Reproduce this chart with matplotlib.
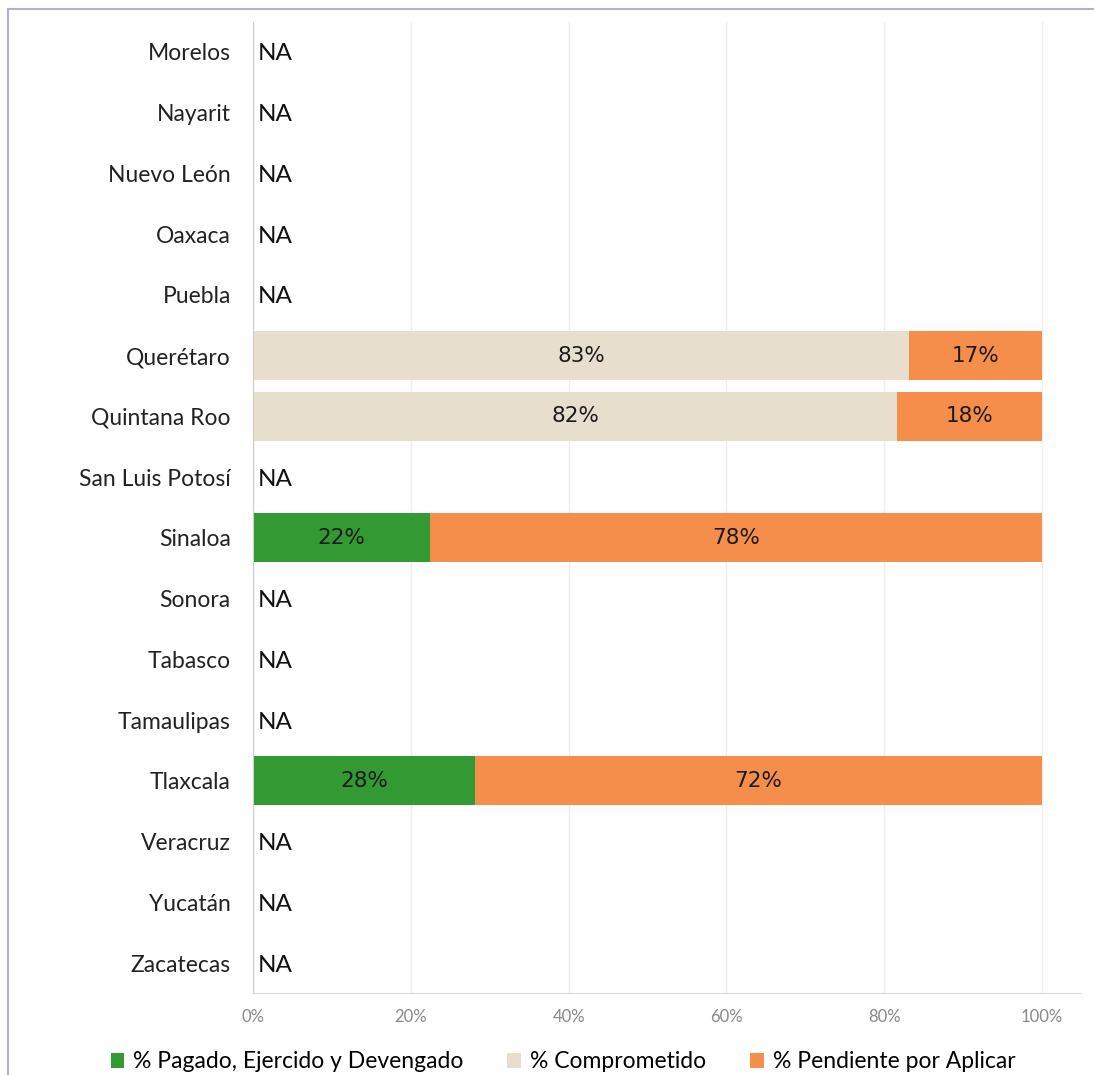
import numpy as np
import matplotlib.pyplot as plt
from matplotlib.patches import Rectangle

# data
estados = ['Morelos', 'Nayarit', 'Nuevo León', 'Oaxaca', 'Puebla', 'Querétaro',
           'Quintana Roo', 'San Luis Potosí', 'Sinaloa', 'Sonora', 'Tabasco',
           'Tamaulipas', 'Tlaxcala', 'Veracruz', 'Yucatán', 'Zacatecas']
pagado = [0, 0, 0, 0, 0, 0, 0, 0, 22.4, 0, 0, 0, 28.1, 0, 0, 0]
comprometido = [0, 0, 0, 0, 0, 83.1, 81.6, 0, 0, 0, 0, 0, 0, 0, 0, 0]
pendiente = [0, 0, 0, 0, 0, 16.9, 18.4, 0, 77.6, 0, 0, 0, 71.9, 0, 0, 0]
series = ['% Pagado, Ejercido y Devengado', '% Comprometido', '% Pendiente por Aplicar']
colores = ['#339933', '#E8DECE', '#F58D4B']
xticks = [0, 20, 40, 60, 80, 100]

plt.rcParams['font.family'] = ['Lato', 'DejaVu Sans']

fig = plt.figure(figsize=(10.94, 10.75), dpi=100)
ax = fig.add_axes([0.2313, 0.0759, 0.7559, 0.904])

y = np.arange(len(estados))
left = np.zeros(len(estados))
for vals, col, name in zip([pagado, comprometido, pendiente], colores, series):
    vals = np.array(vals)
    ax.barh(y, vals, left=left, height=0.81, color=col, label=name, zorder=2)
    for i, v in enumerate(vals):
        if v > 0:
            ax.text(left[i] + v / 2, y[i], f'{v:.0f}%', ha='center', va='center',
                    fontsize=15.5, fontfamily='DejaVu Sans', color='#1a1a1a', zorder=3)
    left += vals

total = np.array(pagado) + np.array(comprometido) + np.array(pendiente)
for i, t in enumerate(total):
    if t == 0:
        ax.text(0.6, y[i], 'NA', ha='left', va='center_baseline', fontsize=17.5, color='#111111')

ax.set_ylim(len(estados) - 0.5, -0.5)
ax.set_xlim(0, 104.8)
ax.set_yticks(y)
ax.set_yticklabels(estados, fontsize=16.5, color='#222222')
ax.set_xticks(xticks)
ax.set_xticklabels([f'{t}%' for t in xticks], fontsize=12, color='#888888')
ax.tick_params(length=0)
ax.tick_params(axis='y', pad=16)
ax.tick_params(axis='x', pad=11)
ax.grid(axis='x', color='#eeeeee', lw=1, zorder=0)
for s in ['top', 'right']:
    ax.spines[s].set_visible(False)
ax.spines['left'].set_color('#cccccc')
ax.spines['bottom'].set_color('#d9d9d9')

ax.legend(loc='center', bbox_to_anchor=(563 / 1094, 13 / 1075), bbox_transform=fig.transFigure,
          ncol=3, frameon=False, fontsize=16.5, handlelength=0.6, handleheight=0.6,
          columnspacing=1.9, handletextpad=0.4)

# outer frame line
fig.patches.append(Rectangle((8 / 1094, -0.1), 1.2, 1.1 - 9 / 1075 + 0.0,
                             transform=fig.transFigure, fill=False,
                             edgecolor='#b8accf', lw=1.5))

fig.savefig('out.png', dpi=100)
